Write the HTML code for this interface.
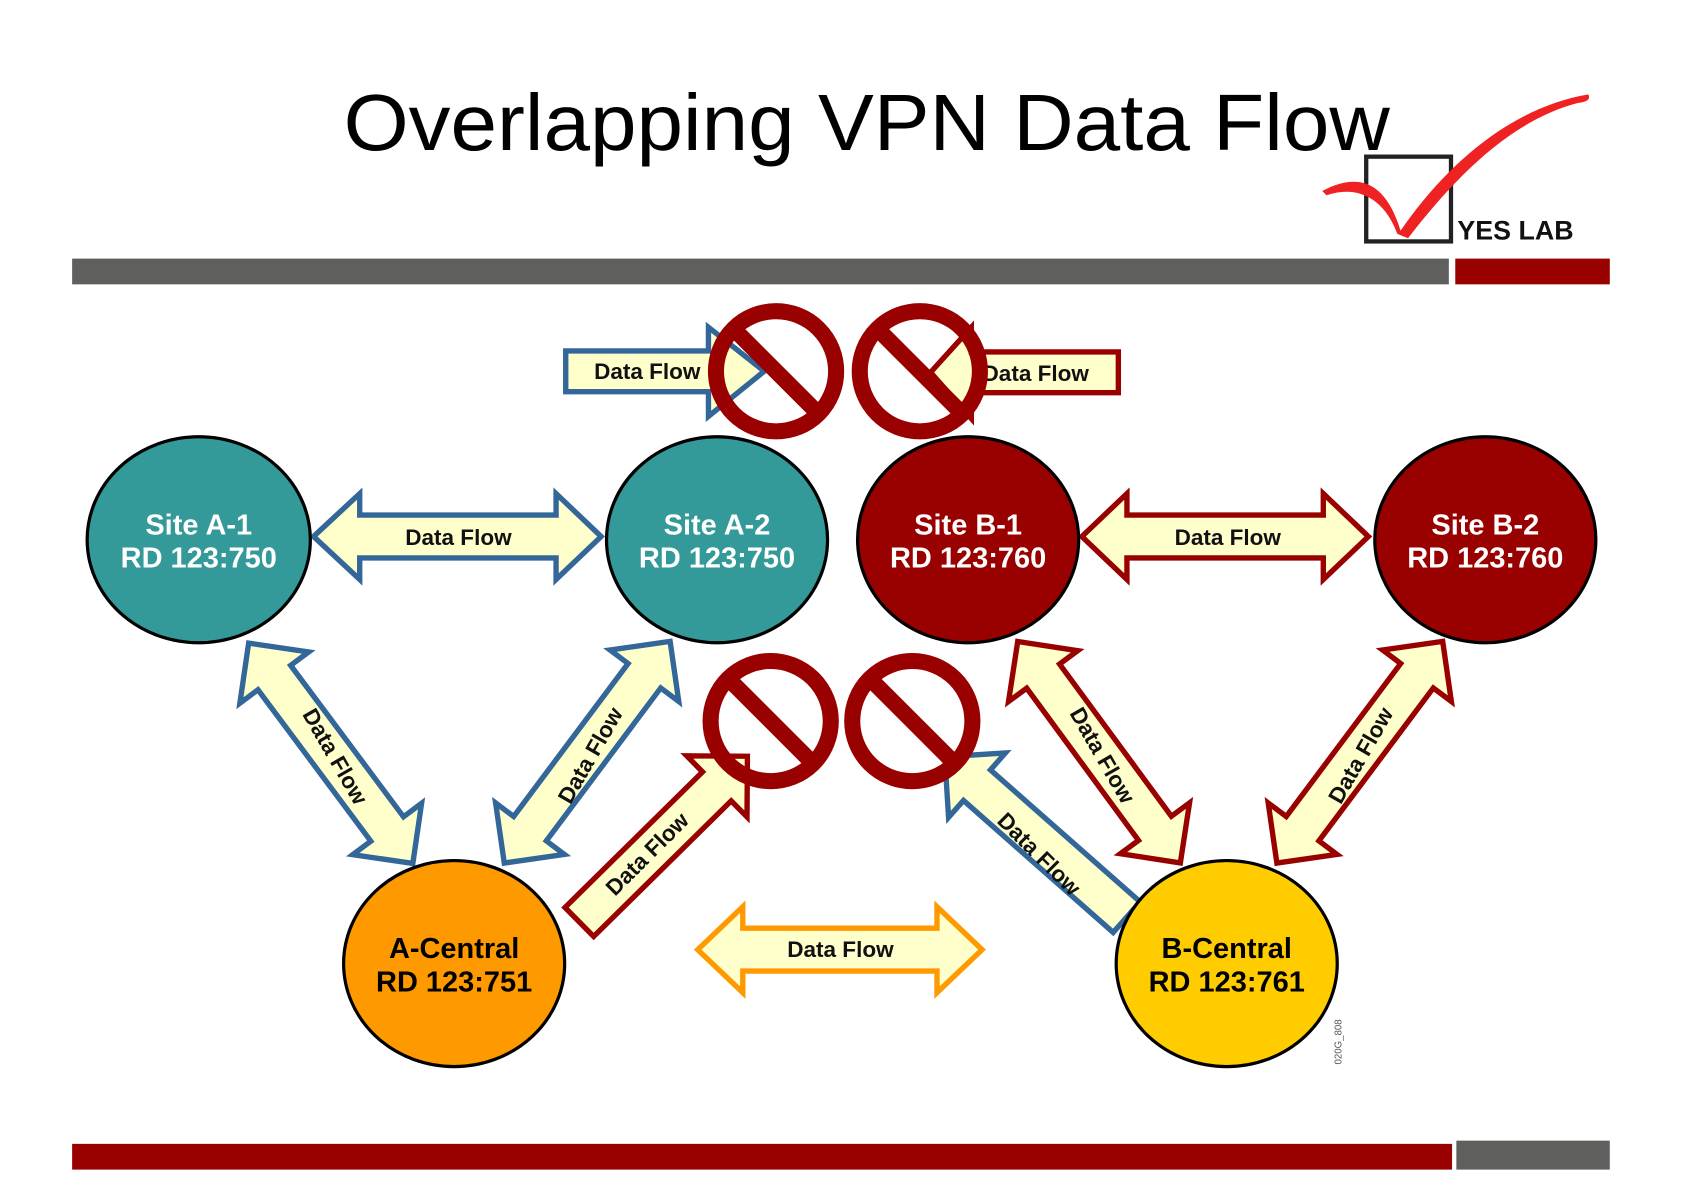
<!DOCTYPE html>
<html><head><meta charset="utf-8"><style>
html,body{margin:0;padding:0;background:#fff}
svg{display:block}
text{font-family:"Liberation Sans",sans-serif;font-weight:bold}
</style></head><body>
<svg width="1683" height="1190" viewBox="0 0 1568 1109" xmlns="http://www.w3.org/2000/svg">
<text x="320" y="140" style="font-weight:normal;font-size:74px" textLength="975" lengthAdjust="spacingAndGlyphs">Overlapping VPN Data Flow</text>
<!-- logo -->
<rect x="1273" y="146" width="79" height="79" fill="none" stroke="#222" stroke-width="4"/>
<path d="M1232,178 C1262,162 1290,165 1305,215 C1350,150 1410,100 1480,88 C1482,92 1480,95 1470,96 C1410,112 1360,160 1312,222 L1302,218 C1290,185 1265,172 1236,182 Z" fill="#ee2222"/>
<text x="1358" y="223" style="font-size:25px" fill="#111">YES LAB</text>
<rect x="67" y="241" width="1283" height="24" fill="#5f605e"/>
<rect x="1356" y="241" width="144" height="24" fill="#990000"/>
<rect x="67" y="1066" width="1286" height="24" fill="#990000"/>
<rect x="1357" y="1063" width="143" height="27" fill="#5f605e"/>

<g stroke-width="5" stroke-linejoin="miter" fill="#ffffcc">
<path d="M292,500 L335,460 L335,480 L518,480 L518,460 L560,500 L518,540 L518,520 L335,520 L335,540 Z" stroke="#336699"/>
<path d="M1008,500 L1050,460 L1050,480 L1233,480 L1233,460 L1275,500 L1233,540 L1233,520 L1050,520 L1050,540 Z" stroke="#990000"/>
<path d="M650,885 L692,845 L692,865 L873,865 L873,845 L915,885 L873,925 L873,905 L692,905 L692,925 Z" stroke="#ff9900"/>
<path d="M527,327 L660,327 L660,305 L712,346 L660,388 L660,365 L527,365 Z" stroke="#336699"/>
<path d="M1042,328 L905,328 L905,305 L867,347 L905,390 L905,366 L1042,366 Z" stroke="#990000"/>
<g transform="translate(308,702) rotate(53.3)"><path d="M-128,0 L-88,-40 L-88,-19 L88,-19 L88,-40 L128,0 L88,40 L88,19 L-88,19 L-88,40 Z" stroke="#336699"/></g>
<g transform="translate(547,701) rotate(-53.2)"><path d="M-129,0 L-89,-40 L-89,-19 L89,-19 L89,-40 L129,0 L89,40 L89,19 L-89,19 L-89,40 Z" stroke="#336699"/></g>
<g transform="translate(1024,701) rotate(53.7)"><path d="M-128,0 L-88,-40 L-88,-19 L88,-19 L88,-40 L128,0 L88,40 L88,19 L-88,19 L-88,40 Z" stroke="#990000"/></g>
<g transform="translate(1267,701) rotate(-53.2)"><path d="M-129,0 L-89,-40 L-89,-19 L89,-19 L89,-40 L129,0 L89,40 L89,19 L-89,19 L-89,40 Z" stroke="#990000"/></g>
<g transform="translate(618,782) rotate(-44.6)"><path d="M-110,-19 L70,-19 L70,-40 L110,0 L70,40 L70,19 L-110,19 Z" stroke="#990000"/></g>
<g transform="translate(965,780) rotate(-138.6)"><path d="M-113,-19 L73,-19 L73,-40 L113,0 L73,40 L73,19 L-113,19 Z" stroke="#336699"/></g>
</g>

<g style="font-size:21px" fill="#111" text-anchor="middle">
<text x="427" y="508">Data Flow</text>
<text x="1144" y="508">Data Flow</text>
<text x="783" y="892">Data Flow</text>
<text x="603" y="353">Data Flow</text>
<text x="965" y="355">Data Flow</text>
<text transform="translate(312,705) rotate(60)" y="7">Data Flow</text>
<text transform="translate(550,704) rotate(-60)" y="7">Data Flow</text>
<text transform="translate(1027,704) rotate(60)" y="7">Data Flow</text>
<text transform="translate(1268,704) rotate(-60)" y="7">Data Flow</text>
<text transform="translate(603,796) rotate(-45)" y="7">Data Flow</text>
<text transform="translate(968,796) rotate(45)" y="7">Data Flow</text>
</g>

<g fill="none" stroke="#990000" stroke-width="15">
<circle cx="723" cy="346" r="56"/><line x1="685" y1="308" x2="761" y2="384"/>
<circle cx="857" cy="346" r="56"/><line x1="819" y1="308" x2="895" y2="384"/>
<circle cx="718" cy="672" r="56"/><line x1="680" y1="634" x2="756" y2="710"/>
<circle cx="850" cy="672" r="56"/><line x1="812" y1="634" x2="888" y2="710"/>
</g>

<g stroke="#000" stroke-width="3">
<ellipse cx="185" cy="503" rx="104" ry="96" fill="#339999"/>
<ellipse cx="668" cy="503" rx="103" ry="96" fill="#339999"/>
<ellipse cx="902" cy="503" rx="103" ry="96" fill="#990000"/>
<ellipse cx="1384" cy="503" rx="103" ry="96" fill="#990000"/>
<ellipse cx="423" cy="898" rx="103" ry="96" fill="#ff9900"/>
<ellipse cx="1143" cy="898" rx="103" ry="96" fill="#ffcc00"/>
</g>
<g style="font-size:27px" text-anchor="middle">
<text x="185" y="498" fill="#fff">Site A-1</text><text x="185" y="529" fill="#fff">RD 123:750</text>
<text x="668" y="498" fill="#fff">Site A-2</text><text x="668" y="529" fill="#fff">RD 123:750</text>
<text x="902" y="498" fill="#fff">Site B-1</text><text x="902" y="529" fill="#fff">RD 123:760</text>
<text x="1384" y="498" fill="#fff">Site B-2</text><text x="1384" y="529" fill="#fff">RD 123:760</text>
<text x="423" y="893" fill="#000">A-Central</text><text x="423" y="924" fill="#000">RD 123:751</text>
<text x="1143" y="893" fill="#000">B-Central</text><text x="1143" y="924" fill="#000">RD 123:761</text>
</g>
<text transform="translate(1250,992) rotate(-90)" style="font-size:9px;font-weight:normal" fill="#555">020G_808</text>
</svg>
</body></html>
